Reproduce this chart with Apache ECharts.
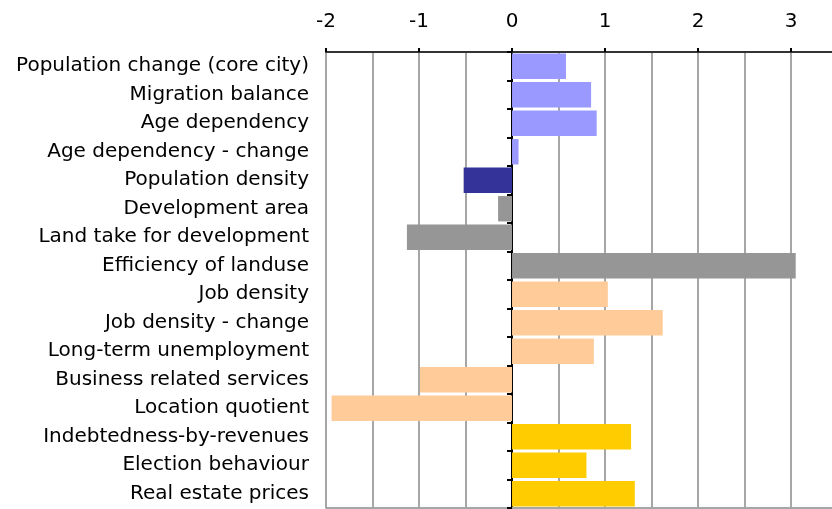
<!DOCTYPE html>
<html>
<head>
<meta charset="utf-8">
<script src="https://cdn.jsdelivr.net/npm/echarts@6/dist/echarts.min.js"></script>
<style>
  html, body { margin: 0; padding: 0; background: #fff; }
  #chart { width: 832px; height: 509px; }
</style>
</head>
<body>
<div id="chart"></div>
<script>
// indicators, top to bottom
const categories = [
  'Population change (core city)',
  'Migration balance',
  'Age dependency',
  'Age dependency - change',
  'Population density',
  'Development area',
  'Land take for development',
  'Efficiency of landuse',
  'Job density',
  'Job density - change',
  'Long-term unemployment',
  'Business related services',
  'Location quotient',
  'Indebtedness-by-revenues',
  'Election behaviour',
  'Real estate prices'
]
const values = [0.58, 0.85, 0.91, 0.07, -0.52, -0.15, -1.13, 3.05, 1.03, 1.62, 0.88, -0.99, -1.94, 1.28, 0.8, 1.32]
// which colour group each indicator belongs to
const groups = [0, 0, 0, 0, 1, 2, 2, 2, 3, 3, 3, 3, 3, 4, 4, 4]
const groupColors = ['#9999ff', '#333399', '#969696', '#ffcc99', '#ffcc00']

const fontFamily = 'DejaVu Sans'
const gridColor = '#a6a6a6'
const xMin = -2
const xMax = 3.44 // plot is cut off at the right edge

const chart = echarts.init(document.getElementById('chart'))
chart.setOption({
  animation: false,
  grid: {
    left: 326,
    right: 0,
    top: 52,
    bottom: 1
  },
  xAxis: [
    {
      // labels + ticks on top
      type: 'value',
      position: 'top',
      min: xMin,
      max: xMax,
      interval: 1,
      axisLine: { show: true, lineStyle: { color: '#333', width: 2 } },
      axisTick: { show: true, length: 4, lineStyle: { color: '#000', width: 2 } },
      axisLabel: {
        color: '#000', fontFamily: fontFamily, fontSize: 20, margin: 20,
        showMaxLabel: false
      },
      splitLine: { show: false }
    },
    {
      // half-unit grid + bottom border
      type: 'value',
      position: 'bottom',
      min: xMin,
      max: xMax,
      interval: 0.5,
      axisLine: { show: true, onZero: false, lineStyle: { color: gridColor, width: 2 } },
      axisTick: { show: false },
      axisLabel: { show: false },
      splitLine: { show: true, showMaxLine: false, lineStyle: { color: gridColor, width: 2 } }
    }
  ],
  yAxis: [
    {
      type: 'category',
      data: categories,
      inverse: true,
      position: 'left',
      axisLine: { show: false, onZero: false },
      axisTick: { show: false },
      axisLabel: { color: '#000', fontFamily: fontFamily, fontSize: 20, margin: 17 }
    },
    {
      type: 'category',
      data: categories,
      inverse: true,
      position: 'left',
      axisLine: { show: true, onZero: true, lineStyle: { color: '#000', width: 2 } },
      axisTick: { show: true, length: 5, lineStyle: { color: '#000', width: 2 } },
      axisLabel: { show: false }
    }
  ],
  series: [
    {
      type: 'bar',
      xAxisIndex: 0,
      yAxisIndex: 0,
      barCategoryGap: '11%',
      data: values.map((v, i) => ({
        value: v,
        itemStyle: { color: groupColors[groups[i]] }
      })),
      z: 3
    }
  ]
})
</script>
</body>
</html>
